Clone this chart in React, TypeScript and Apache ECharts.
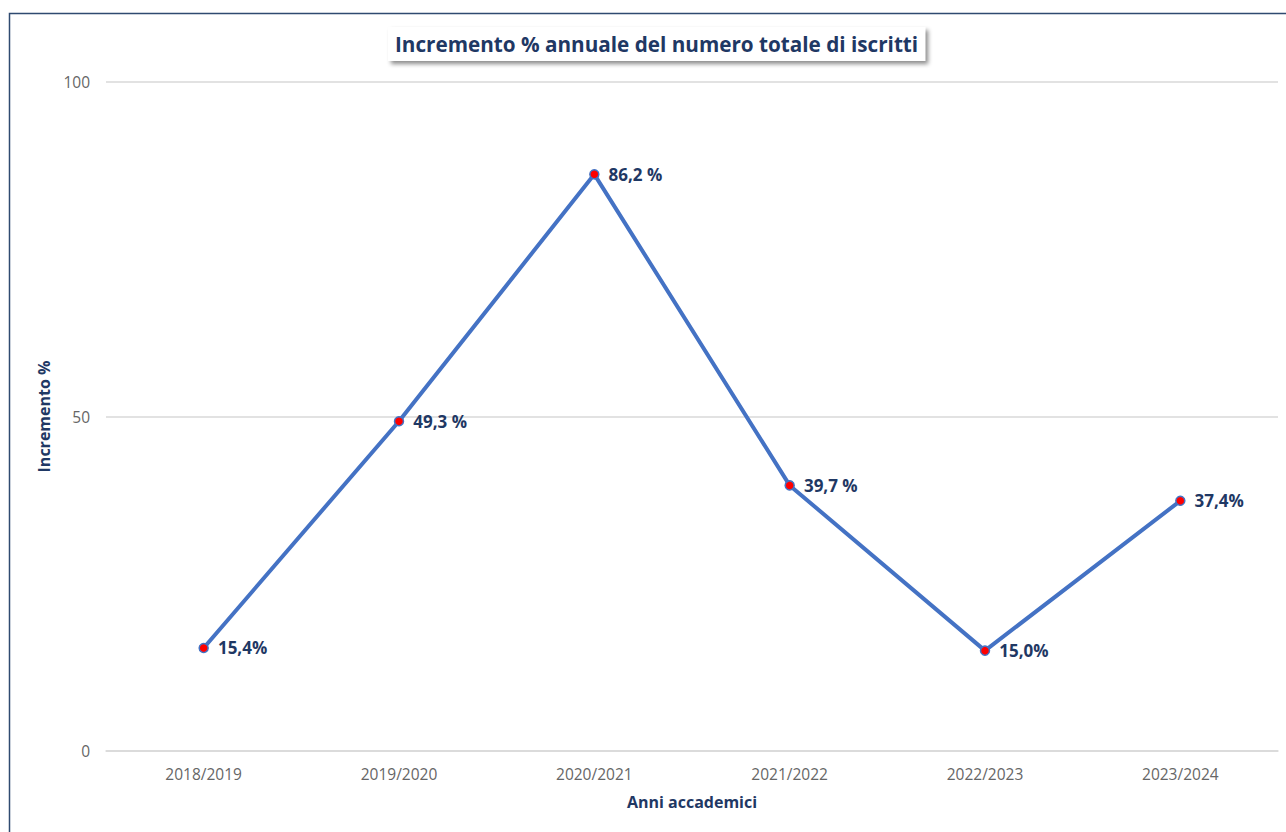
import React, { useEffect, useRef } from "react";
import * as echarts from "echarts";

const categories = ["2018/2019", "2019/2020", "2020/2021", "2021/2022", "2022/2023", "2023/2024"];
const values = [15.4, 49.3, 86.2, 39.7, 15.0, 37.4];
const labels = ["15,4%", "49,3 %", "86,2 %", "39,7 %", "15,0%", "37,4%"];
const yTicks = [0, 50, 100];

export default function App() {
  const ref = useRef<HTMLDivElement>(null);
  useEffect(() => {
    if (!ref.current) return;
    const chart = echarts.init(ref.current, null, { renderer: "svg" });
    const navy = "#1f3864";
    const font = "'Open Sans', 'Noto Sans', sans-serif";
    chart.setOption({
      animation: false,
      backgroundColor: "#ffffff",
      textStyle: { fontFamily: font },
      title: {
        text: "Incremento % annuale del numero totale di iscritti",
        left: 388,
        top: 27,
        padding: [6, 7, 7, 7],
        backgroundColor: "#ffffff",
        shadowColor: "rgba(0,0,0,0.45)",
        shadowBlur: 4,
        shadowOffsetX: 3,
        shadowOffsetY: 3,
        textStyle: { fontFamily: font, fontSize: 20.7, fontWeight: "bold", color: navy },
      },
      graphic: [
        {
          type: "rect",
          shape: { x: 9.5, y: 13.5, width: 1400, height: 900 },
          style: { fill: "none", stroke: "#2f4a70", lineWidth: 1.5 },
          silent: true,
        },
      ],
      grid: { left: 106, right: 8, top: 82, bottom: 81, containLabel: false },
      xAxis: {
        type: "category",
        data: categories,
        boundaryGap: true,
        axisLine: { show: true, lineStyle: { color: "#d9d9d9", width: 1.5 } },
        axisTick: { show: false },
        axisLabel: { color: "#666666", fontSize: 15.5, margin: 15, fontFamily: font },
        name: "Anni accademici",
        nameLocation: "middle",
        nameGap: 43,
        nameTextStyle: { color: navy, fontSize: 16, fontWeight: "bold", fontFamily: font },
      },
      yAxis: {
        type: "value",
        min: yTicks[0],
        max: yTicks[yTicks.length - 1],
        interval: 50,
        axisLine: { show: false },
        axisTick: { show: false },
        splitLine: { lineStyle: { color: "#d9d9d9", width: 1.5 } },
        axisLabel: { color: "#666666", fontSize: 15.5, margin: 16, fontFamily: font },
        name: "Incremento %",
        nameLocation: "middle",
        nameGap: 54,
        nameRotate: 90,
        nameTextStyle: { color: navy, fontSize: 16, fontWeight: "bold", fontFamily: font },
      },
      series: [
        {
          type: "line",
          data: values,
          lineStyle: { color: "#4472c4", width: 4 },
          itemStyle: { color: "#ff0000", borderColor: "#4472c4", borderWidth: 1.5 },
          symbol: "circle",
          symbolSize: 9,
          label: {
            show: true,
            position: "right",
            distance: 9,
            color: navy,
            fontSize: 17,
            fontWeight: "bold",
            fontFamily: font,
            formatter: (p: any) => labels[p.dataIndex],
          },
        },
      ],
    });
    return () => chart.dispose();
  }, []);
  return (
    <div
      ref={ref}
      style={{ position: "fixed", left: 0, top: 0, width: 1286, height: 832 }}
    />
  );
}
